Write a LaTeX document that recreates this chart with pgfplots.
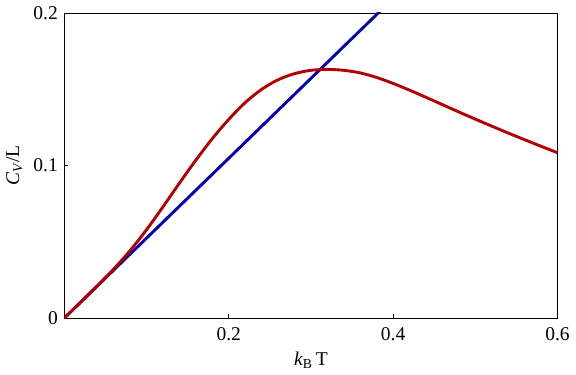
\documentclass[border=0pt]{standalone}
\usepackage{fontspec}
\setmainfont{Liberation Serif}
\usepackage{pgfplots}
\pgfplotsset{compat=1.18}
\definecolor{cred}{rgb}{0.7,0,0}
\definecolor{cblue}{rgb}{0,0,0.7}
\begin{document}
\fontsize{19}{22}\selectfont
\begin{tikzpicture}
\begin{axis}[
    scale only axis,
    width=493pt, height=305pt,
    xmin=0, xmax=0.6,
    ymin=0, ymax=0.2,
    xtick={0.2,0.4,0.6},
    ytick={0,0.1,0.2},
    xtick pos=bottom, ytick pos=left,
    tick align=inside,
    major tick length=4pt,
    axis line style={line width=0.9pt},
    tick style={line width=0.8pt, black},
    ticklabel style={font=\fontsize{19.5}{22}\selectfont},
    /pgf/number format/assume math mode=true,
    xticklabel style={yshift=-3pt},
    label style={font=\fontsize{19.5}{22}\selectfont},
    xlabel={\textit{k}\textsubscript{B}\,T},
    ylabel={\textit{C}\textsubscript{\textit{V}}/L},
    xlabel style={yshift=2pt},
    ylabel style={yshift=-2pt},
]
\addplot[color=cblue, line width=2.9pt] coordinates {(0,0) (0.6,0.3142)};
\addplot[color=cred, line width=2.9pt, smooth] coordinates {
(0,0) (0.02,0.0105) (0.04,0.0211) (0.06,0.0321) (0.08,0.0442) (0.10,0.0579)
(0.12,0.0729) (0.14,0.0884) (0.16,0.1035) (0.18,0.1176) (0.20,0.1302)
(0.22,0.1412) (0.24,0.1499) (0.26,0.1562) (0.28,0.1602) (0.30,0.1624)
(0.32,0.1630) (0.34,0.1624) (0.36,0.1607) (0.38,0.1577) (0.40,0.1538)
(0.42,0.1494) (0.44,0.1447) (0.46,0.1399) (0.48,0.1351) (0.50,0.1304)
(0.52,0.1258) (0.54,0.1213) (0.56,0.1169) (0.58,0.1126) (0.60,0.1084)};
\end{axis}
\end{tikzpicture}
\end{document}
